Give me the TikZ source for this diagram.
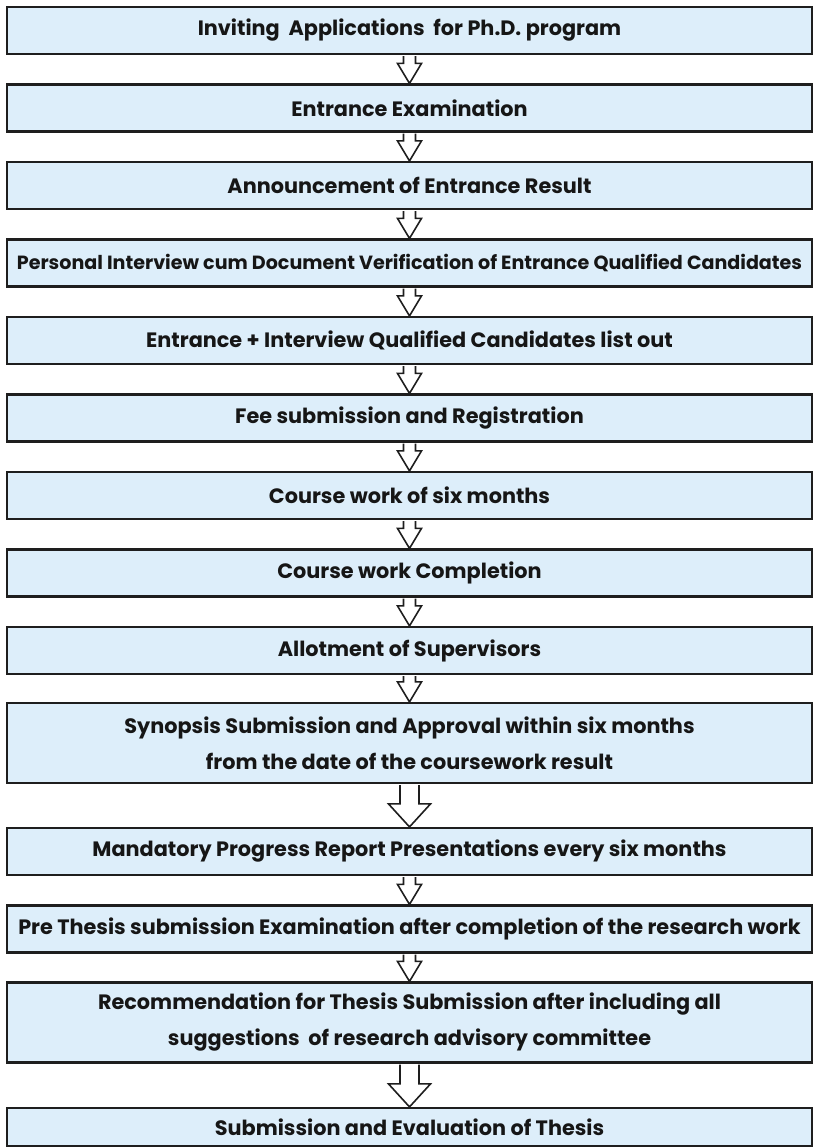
\documentclass[tikz,border=0pt]{standalone}
\usepackage{fontspec}
\setmainfont{Poppins}
\usetikzlibrary{calc}

\definecolor{boxblue}{HTML}{DDEEFA}
\definecolor{boxline}{HTML}{1E1E1E}
\definecolor{inkgray}{HTML}{161616}

% hollow block arrow from one box to the next
% #1 from, #2 to, #3 half shaft, #4 half head, #5 head height
\newcommand{\hollowarrow}[5]{%
  \filldraw[arrowline] let \p1=(#1.south), \p2=(#2.north) in
    (\x2-#3pt,\y1-1pt) -- (\x2-#3pt,\y2+#5pt) -- (\x2-#4pt,\y2+#5pt) -- (\x2,\y2)
    -- (\x2+#4pt,\y2+#5pt) -- (\x2+#3pt,\y2+#5pt) -- (\x2+#3pt,\y1-1pt);}

\begin{document}
\begin{tikzpicture}[x=1pt,y=1pt,
    phdbox/.style={draw=boxline, line width=2.2pt, fill=boxblue, text=inkgray,
      minimum width=805pt, minimum height=47pt, inner sep=0pt, align=center,
      font=\bfseries\fontsize{20.8}{36}\selectfont},
    arrowline/.style={draw=boxline, fill=white, line width=1.6pt, line join=miter}]
    \useasboundingbox (0,0) rectangle (814,-1148);

    % Boxes
    \node[phdbox] (inviting)  at (409.5,-30.5) {Inviting\ \ Applications\ \ for Ph.D. program};
    \node[phdbox] (exam)      at (409.5,-108)  {Entrance Examination};
    \node[phdbox] (result)    at (409.5,-185.5){Announcement of Entrance Result};
    \node[phdbox, font=\bfseries\fontsize{19.1}{36}\selectfont] (interview) at (409.5,-263)
      {Personal Interview cum Document Verification of Entrance Qualified Candidates};
    \node[phdbox] (listout)   at (409.5,-340.5){Entrance + Interview Qualified Candidates list out};
    \node[phdbox] (fee)       at (409.5,-418)  {Fee submission and Registration};
    \node[phdbox] (course)    at (409.5,-495.5){Course work of six months};
    \node[phdbox] (coursedone)at (409.5,-573)  {Course work Completion};
    \node[phdbox] (allot)     at (409.5,-650.5){Allotment of Supervisors};
    \node[phdbox, minimum height=80pt] (synopsis) at (409.5,-743)
      {Synopsis Submission and Approval within six months\\from the date of the coursework result};
    \node[phdbox] (progress)  at (409.5,-851.5){Mandatory Progress Report Presentations every six months};
    \node[phdbox] (prethesis) at (409.5,-929)  {Pre Thesis submission Examination after completion of the research work};
    \node[phdbox, minimum height=80pt] (recommend) at (409.5,-1022.5)
      {Recommendation for Thesis Submission after including all\\suggestions\ \ of research advisory committee};
    \node[phdbox, minimum height=38pt] (thesis) at (409.5,-1127) {Submission and Evaluation of Thesis};

    % Arrows
    \hollowarrow{inviting}{exam}{6}{12}{20}
    \hollowarrow{exam}{result}{6}{12}{20}
    \hollowarrow{result}{interview}{6}{12}{20}
    \hollowarrow{interview}{listout}{6}{12}{20}
    \hollowarrow{listout}{fee}{6}{12}{20}
    \hollowarrow{fee}{course}{6}{12}{20}
    \hollowarrow{course}{coursedone}{6}{12}{20}
    \hollowarrow{coursedone}{allot}{6}{12}{20}
    \hollowarrow{allot}{synopsis}{6}{12}{20}
    \hollowarrow{synopsis}{progress}{9.5}{21}{23}
    \hollowarrow{progress}{prethesis}{6}{12}{20}
    \hollowarrow{prethesis}{recommend}{6}{12}{20}
    \hollowarrow{recommend}{thesis}{9.5}{21}{23}
\end{tikzpicture}
\end{document}
